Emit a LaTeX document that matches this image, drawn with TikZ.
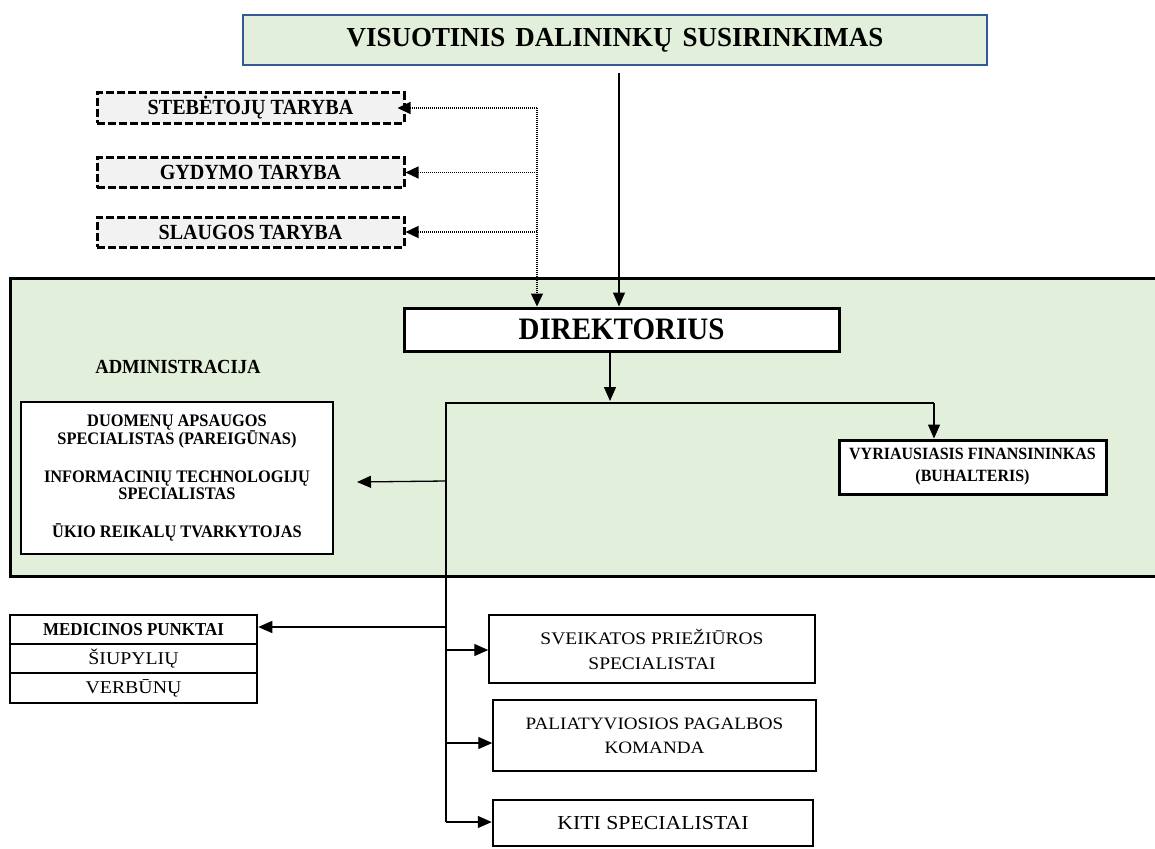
\documentclass[tikz,border=0pt]{standalone}
\usepackage{fontspec}
\setmainfont{Liberation Serif}
\newfontfamily\cond{Liberation Serif}[FakeStretch=0.93]
\newfontfamily\titlefont{Liberation Serif}[FakeStretch=0.98]
\newfontfamily\wide{Liberation Serif}[FakeStretch=1.1]
\usetikzlibrary{arrows.meta}
\definecolor{lgreen}{RGB}{226,239,218}
\definecolor{lgray}{RGB}{242,242,242}
\definecolor{tblue}{RGB}{52,90,150}
\newcommand{\setfs}[2]{\fontsize{#1}{#2}\selectfont}
\begin{document}
\begin{tikzpicture}[x=1pt,y=-1pt,
  box/.style={draw, fill=white, inner sep=0pt, align=center, text=black},
  tar/.style={draw, dash pattern=on 8pt off 3pt, line width=3pt, fill=lgray,
    minimum width=307pt, minimum height=30pt, inner sep=0pt, font=\cond\bfseries\setfs{21.6}{24}},
  mrow/.style={box, line width=2.5pt, minimum width=247pt},
  conn/.style={line width=1.3pt, -{Triangle[length=14pt,width=12pt]}},
  wire/.style={line width=1.3pt},
  dotconn/.style={line width=1.2pt, dash pattern=on 1pt off 1pt, -{Triangle[length=13pt,width=12pt]}}
]
\useasboundingbox (0,0) rectangle (1155,848);

% top
\node[draw=tblue, line width=2.5pt, fill=lgreen, minimum width=744pt, minimum height=50pt,
  inner sep=0pt, font=\titlefont\bfseries\setfs{27.5}{30}] (vds) at (615,40)
  {\spaceskip=10pt VISUOTINIS DALININKŲ SUSIRINKIMAS};

% councils
\node[tar] (steb) at (250.5,108) {STEBĖTOJŲ TARYBA};
\node[tar] (gyd) at (250.5,172.5) {GYDYMO TARYBA};
\node[tar] (sla) at (250.5,232) {SLAUGOS TARYBA};

% administration region
\node[draw, line width=3pt, fill=lgreen, minimum width=1160pt, minimum height=298pt,
  inner sep=0pt, anchor=north west] (adm) at (9,277) {};
\node[font=\cond\bfseries\setfs{20}{23}] (admt) at (178,367) {ADMINISTRACIJA};

\node[box, line width=3pt, minimum width=435pt, minimum height=43pt,
  font=\cond\bfseries\setfs{31.2}{34}] (dir) at (621.5,329.5) {DIREKTORIUS};

\node[box, line width=1.5pt, minimum width=312pt, minimum height=152pt,
  font=\cond\bfseries\setfs{17.6}{17}] (admbox) at (177,478)
  {DUOMENŲ APSAUGOS\\SPECIALISTAS (PAREIGŪNAS)\\[21pt]INFORMACINIŲ TECHNOLOGIJŲ\\SPECIALISTAS\\[21pt]ŪKIO REIKALŲ TVARKYTOJAS};

\node[box, line width=3pt, minimum width=267pt, minimum height=54pt,
  font=\cond\bfseries\setfs{17.2}{22}] (vyr) at (972.5,467) {VYRIAUSIASIS FINANSININKAS\\(BUHALTERIS)};

% medical points
\node[mrow, minimum height=29pt, font=\cond\bfseries\setfs{18.2}{20}] (med) at (133.5,629.5) {MEDICINOS PUNKTAI};
\node[mrow, minimum height=29pt, font=\wide\setfs{18}{20}] (siu) at (133.5,658.5) {ŠIUPYLIŲ};
\node[mrow, minimum height=30pt, font=\wide\setfs{18}{20}] (ver) at (133.5,688) {VERBŪNŲ};

% specialists
\node[box, line width=1.5pt, minimum width=326pt, minimum height=68pt,
  font=\wide\setfs{17.7}{25}] (sv) at (652,649) {SVEIKATOS PRIEŽIŪROS\\SPECIALISTAI};
\node[box, line width=1.5pt, minimum width=323pt, minimum height=71pt,
  font=\wide\setfs{17.4}{24}] (pal) at (654.5,735.5) {PALIATYVIOSIOS PAGALBOS\\KOMANDA};
\node[box, line width=2.5pt, minimum width=320pt, minimum height=46pt,
  font=\wide\setfs{19.8}{23}] (kiti) at (653,823) {KITI SPECIALISTAI};

% connectors from top
\coordinate (vtop) at (619,73);
\draw[conn] (vtop) -- (vtop |- dir.north);
\coordinate (dv) at (537,108);
\draw[dotconn] (dv) -- (dv |- dir.north);
\draw[dotconn] (dv) -- ([xshift=-8pt]steb.east);
\draw[dotconn] (dv |- gyd.east) -- (gyd.east);
\draw[dotconn] (dv |- sla.east) -- (sla.east);

% bus
\coordinate (b0) at (610,401);
\coordinate (b1) at (446,403);
\coordinate (b2) at (934,403);
\coordinate (bend) at (446,822);
\draw[conn] (dir.south -| b0) -- (b0);
\draw[wire] (bend) -- (b1) -- (b2);
\draw[conn] (b2) -- (vyr.north -| b2);
\coordinate (a1) at (446,481);
\coordinate (a1t) at (357,482);
\draw[conn] (a1) -- (a1t);
\coordinate (m1) at (446,627);
\draw[conn] (m1) -- (m1 -| med.east);
\coordinate (s1) at (446,650);
\draw[conn] (s1) -- (s1 -| sv.west);
\coordinate (p1) at (446,743);
\draw[conn] (p1) -- (p1 -| pal.west);
\draw[conn] (bend) -- (bend -| kiti.west);
\end{tikzpicture}
\end{document}
